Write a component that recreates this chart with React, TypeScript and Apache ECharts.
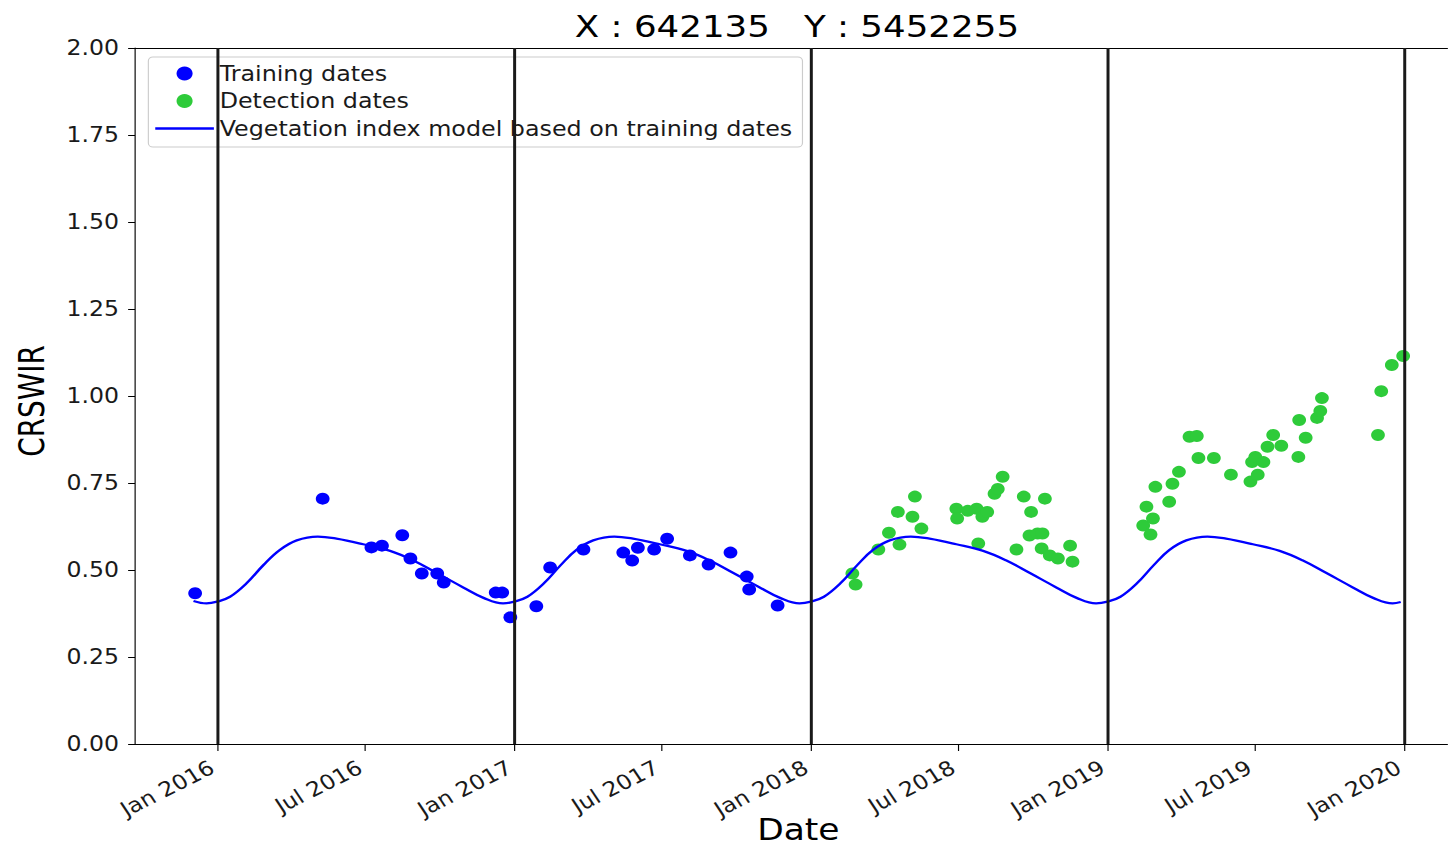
import React, { useEffect, useRef } from 'react';
import * as echarts from 'echarts';

// The reference image is horizontally stretched; the chart is drawn at natural size and stretched by CSS.
const SCALE_X = 1.15;
const CHART_W = 1259;
const CHART_H = 850;

const titleText = 'X : 642135   Y : 5452255';
const xAxisName = 'Date';
const yAxisName = 'CRSWIR';
const seriesNames = ['Training dates', 'Detection dates', 'Vegetation index model based on training dates'];

const xMin = '2015-09-22';
const xMax = '2020-02-24';

const tickDates = ['2016-01-01', '2016-07-01', '2017-01-01', '2017-07-01', '2018-01-01', '2018-07-01', '2019-01-01', '2019-07-01', '2020-01-01'];
const tickLabels = ['Jan 2016', 'Jul 2016', 'Jan 2017', 'Jul 2017', 'Jan 2018', 'Jul 2018', 'Jan 2019', 'Jul 2019', 'Jan 2020'];
const yearLineDates = ['2016-01-01', '2017-01-01', '2018-01-01', '2019-01-01', '2020-01-01'];

const yMin = 0;
const yMax = 2;
const yStep = 0.25;

const trainingDates = [
  '2015-12-05', '2016-05-10', '2016-07-09', '2016-07-22', '2016-08-16', '2016-08-26', '2016-09-09', '2016-09-28',
  '2016-10-06', '2016-12-09', '2016-12-17', '2016-12-27', '2017-01-28', '2017-02-14', '2017-03-27', '2017-05-15',
  '2017-05-26', '2017-06-02', '2017-06-22', '2017-07-08', '2017-08-05', '2017-08-28', '2017-09-24', '2017-10-14',
  '2017-10-17', '2017-11-21',
];
const trainingValues = [
  0.433, 0.705, 0.565, 0.57, 0.6, 0.533, 0.49, 0.49,
  0.464, 0.435, 0.435, 0.364, 0.396, 0.507, 0.559, 0.55,
  0.527, 0.564, 0.559, 0.59, 0.542, 0.516, 0.55, 0.481,
  0.444, 0.398,
];

const detectionDates = [
  '2018-02-21', '2018-02-25', '2018-03-25', '2018-04-07', '2018-04-18', '2018-04-20', '2018-05-06', '2018-05-09',
  '2018-05-17', '2018-06-29', '2018-06-30', '2018-07-13', '2018-07-24', '2018-07-26', '2018-07-31', '2018-08-06',
  '2018-08-15', '2018-08-19', '2018-08-25', '2018-09-11', '2018-09-20', '2018-09-27', '2018-09-29', '2018-10-07',
  '2018-10-12', '2018-10-13', '2018-10-16', '2018-10-22', '2018-11-01', '2018-11-16', '2018-11-19',
  '2019-02-14', '2019-02-18', '2019-02-23', '2019-02-26', '2019-03-01', '2019-03-18', '2019-03-22', '2019-03-30',
  '2019-04-12', '2019-04-21', '2019-04-23', '2019-05-12', '2019-06-02', '2019-06-26', '2019-06-28', '2019-07-02',
  '2019-07-05', '2019-07-12', '2019-07-17', '2019-07-24', '2019-08-03', '2019-08-24', '2019-08-25', '2019-09-02',
  '2019-09-16', '2019-09-20', '2019-09-22', '2019-11-30', '2019-12-04', '2019-12-17', '2019-12-31',
];
const detectionValues = [
  0.49, 0.458, 0.559, 0.607, 0.667, 0.573, 0.653, 0.711,
  0.619, 0.676, 0.648, 0.67, 0.676, 0.576, 0.653, 0.667,
  0.719, 0.733, 0.768, 0.559, 0.711, 0.599, 0.667, 0.605,
  0.562, 0.605, 0.705, 0.542, 0.533, 0.57, 0.524,
  0.628, 0.682, 0.602, 0.648, 0.739, 0.696, 0.748, 0.782,
  0.883, 0.885, 0.822, 0.822, 0.774, 0.754, 0.81, 0.825,
  0.774, 0.81, 0.854, 0.888, 0.857, 0.825, 0.931, 0.88,
  0.937, 0.957, 0.994, 0.888, 1.014, 1.089, 1.115,
];

const modelDates = [
  '2015-12-03', '2015-12-19',
  '2016-01-01', '2016-01-17', '2016-02-06', '2016-02-27', '2016-03-18', '2016-04-08', '2016-05-04', '2016-05-27',
  '2016-06-29', '2016-08-01', '2016-08-29', '2016-09-27', '2016-10-30', '2016-11-24', '2016-12-18',
  '2017-01-01', '2017-01-17', '2017-02-06', '2017-02-27', '2017-03-18', '2017-04-08', '2017-05-04', '2017-05-27',
  '2017-06-29', '2017-08-01', '2017-08-29', '2017-09-27', '2017-10-30', '2017-11-24', '2017-12-18',
  '2018-01-01', '2018-01-17', '2018-02-06', '2018-02-27', '2018-03-18', '2018-04-08', '2018-05-04', '2018-05-27',
  '2018-06-29', '2018-08-01', '2018-08-29', '2018-09-27', '2018-10-30', '2018-11-24', '2018-12-18',
  '2019-01-01', '2019-01-17', '2019-02-06', '2019-02-27', '2019-03-18', '2019-04-08', '2019-05-04', '2019-05-27',
  '2019-06-29', '2019-08-01', '2019-08-29', '2019-09-27', '2019-10-30', '2019-11-24', '2019-12-18', '2019-12-28',
];
const modelValues = [
  0.411, 0.404,
  0.409, 0.423, 0.461, 0.514, 0.557, 0.585, 0.596, 0.59,
  0.574, 0.555, 0.528, 0.492, 0.45, 0.42, 0.404,
  0.409, 0.423, 0.461, 0.514, 0.557, 0.585, 0.596, 0.59,
  0.574, 0.555, 0.528, 0.492, 0.45, 0.42, 0.404,
  0.409, 0.423, 0.461, 0.514, 0.557, 0.585, 0.596, 0.59,
  0.574, 0.555, 0.528, 0.492, 0.45, 0.42, 0.404,
  0.409, 0.423, 0.461, 0.514, 0.557, 0.585, 0.596, 0.59,
  0.574, 0.555, 0.528, 0.492, 0.45, 0.42, 0.404, 0.408,
];

const toTs = (s: string): number => {
  const [y, m, d] = s.split('-').map(Number);
  return Date.UTC(y, m - 1, d);
};

export default function App() {
  const ref = useRef<HTMLDivElement>(null);

  useEffect(() => {
    if (!ref.current) return;
    const chart = echarts.init(ref.current, undefined, { renderer: 'svg' });
    const tickTs = tickDates.map(toTs);
    const font = 'DejaVu Sans';

    const option: any = {
      animation: false,
      backgroundColor: '#ffffff',
      textStyle: { fontFamily: font },
      title: {
        text: titleText,
        left: 693,
        top: 11,
        padding: 0,
        textAlign: 'center',
        textStyle: { fontSize: 31, fontWeight: 'normal', color: '#000000', fontFamily: font },
      },
      legend: {
        orient: 'vertical',
        left: 129,
        top: 57,
        padding: [6, 9, 8, 6],
        itemGap: 6.5,
        itemWidth: 51,
        itemHeight: 14,
        backgroundColor: 'rgba(255,255,255,0.8)',
        borderColor: '#cccccc',
        borderWidth: 1,
        borderRadius: 4,
        textStyle: { fontSize: 20.7, color: '#1a1a1a', lineHeight: 20, fontFamily: font },
        data: [
          { name: seriesNames[0], icon: 'circle' },
          { name: seriesNames[1], icon: 'circle' },
          { name: seriesNames[2], icon: 'path://M0,0H50V2.4H0Z' },
        ],
      },
      grid: {
        left: 117.4,
        right: 0,
        top: 48,
        bottom: 102,
        show: false,
      },
      xAxis: [
        {
          type: 'value',
          min: toTs(xMin),
          max: toTs(xMax),
          name: xAxisName,
          nameLocation: 'middle',
          nameGap: 71,
          nameMoveOverlap: false,
          nameTextStyle: { fontSize: 30, color: '#000000', fontFamily: font, padding: [0, 0, 0, 12] },
          axisLine: { show: true, onZero: false, lineStyle: { color: '#000000', width: 1 } },
          axisTick: { show: true, length: 7, lineStyle: { color: '#000000' }, customValues: tickTs },
          axisLabel: {
            customValues: tickTs,
            rotate: 30,
            margin: 19,
            fontSize: 20.5,
            color: '#1a1a1a',
            fontFamily: font,
            padding: [0, 5, 0, 0],
            formatter: (v: number) => {
              const i = tickTs.indexOf(v);
              return i >= 0 ? tickLabels[i] : '';
            },
          },
          splitLine: { show: false },
        },
        {
          type: 'value',
          position: 'top',
          min: toTs(xMin),
          max: toTs(xMax),
          axisLine: { show: true, onZero: false, lineStyle: { color: '#000000', width: 1 } },
          axisTick: { show: false },
          axisLabel: { show: false },
          splitLine: { show: false },
        },
      ],
      yAxis: {
        type: 'value',
        min: yMin,
        max: yMax,
        interval: yStep,
        name: yAxisName,
        nameLocation: 'middle',
        nameGap: 74,
        nameRotate: 90,
        nameTextStyle: {
          fontSize: 31,
          color: '#000000',
          fontFamily: "'Liberation Sans Narrow', 'DejaVu Sans Condensed', 'DejaVu Sans'",
          padding: [0, 10, 0, 0],
        },
        axisLine: { show: true, lineStyle: { color: '#000000', width: 1 } },
        axisTick: { show: true, length: 6, lineStyle: { color: '#000000' } },
        axisLabel: {
          margin: 14,
          fontSize: 20.5,
          color: '#1a1a1a',
          fontFamily: font,
          formatter: (v: number) => v.toFixed(2),
        },
        splitLine: { show: false },
      },
      series: [
        {
          name: seriesNames[0],
          type: 'scatter',
          symbol: 'circle',
          symbolSize: 12,
          itemStyle: { color: '#0000ff', opacity: 1 },
          data: trainingDates.map((d, i) => [toTs(d), trainingValues[i]]),
          z: 3,
        },
        {
          name: seriesNames[1],
          type: 'scatter',
          symbol: 'circle',
          symbolSize: 12,
          itemStyle: { color: '#2ecb3a', opacity: 1 },
          data: detectionDates.map((d, i) => [toTs(d), detectionValues[i]]),
          z: 3,
        },
        {
          name: seriesNames[2],
          type: 'line',
          smooth: 0.4,
          symbol: 'none',
          showSymbol: false,
          lineStyle: { color: '#0000ff', width: 2.3 },
          itemStyle: { color: '#0000ff' },
          data: modelDates.map((d, i) => [toTs(d), modelValues[i]]),
          z: 4,
          markLine: {
            silent: true,
            symbol: ['none', 'none'],
            label: { show: false },
            lineStyle: { color: '#1a1a1a', width: 2.6, type: 'solid' },
            emphasis: { disabled: true },
            data: yearLineDates.map((d) => ({ xAxis: toTs(d) })),
          },
        },
      ],
    };

    chart.setOption(option);
    return () => chart.dispose();
  }, []);

  return (
    <div
      ref={ref}
      style={{
        position: 'absolute',
        left: 0,
        top: 0,
        width: CHART_W,
        height: CHART_H,
        transform: `scaleX(${SCALE_X})`,
        transformOrigin: '0 0',
      }}
    />
  );
}
